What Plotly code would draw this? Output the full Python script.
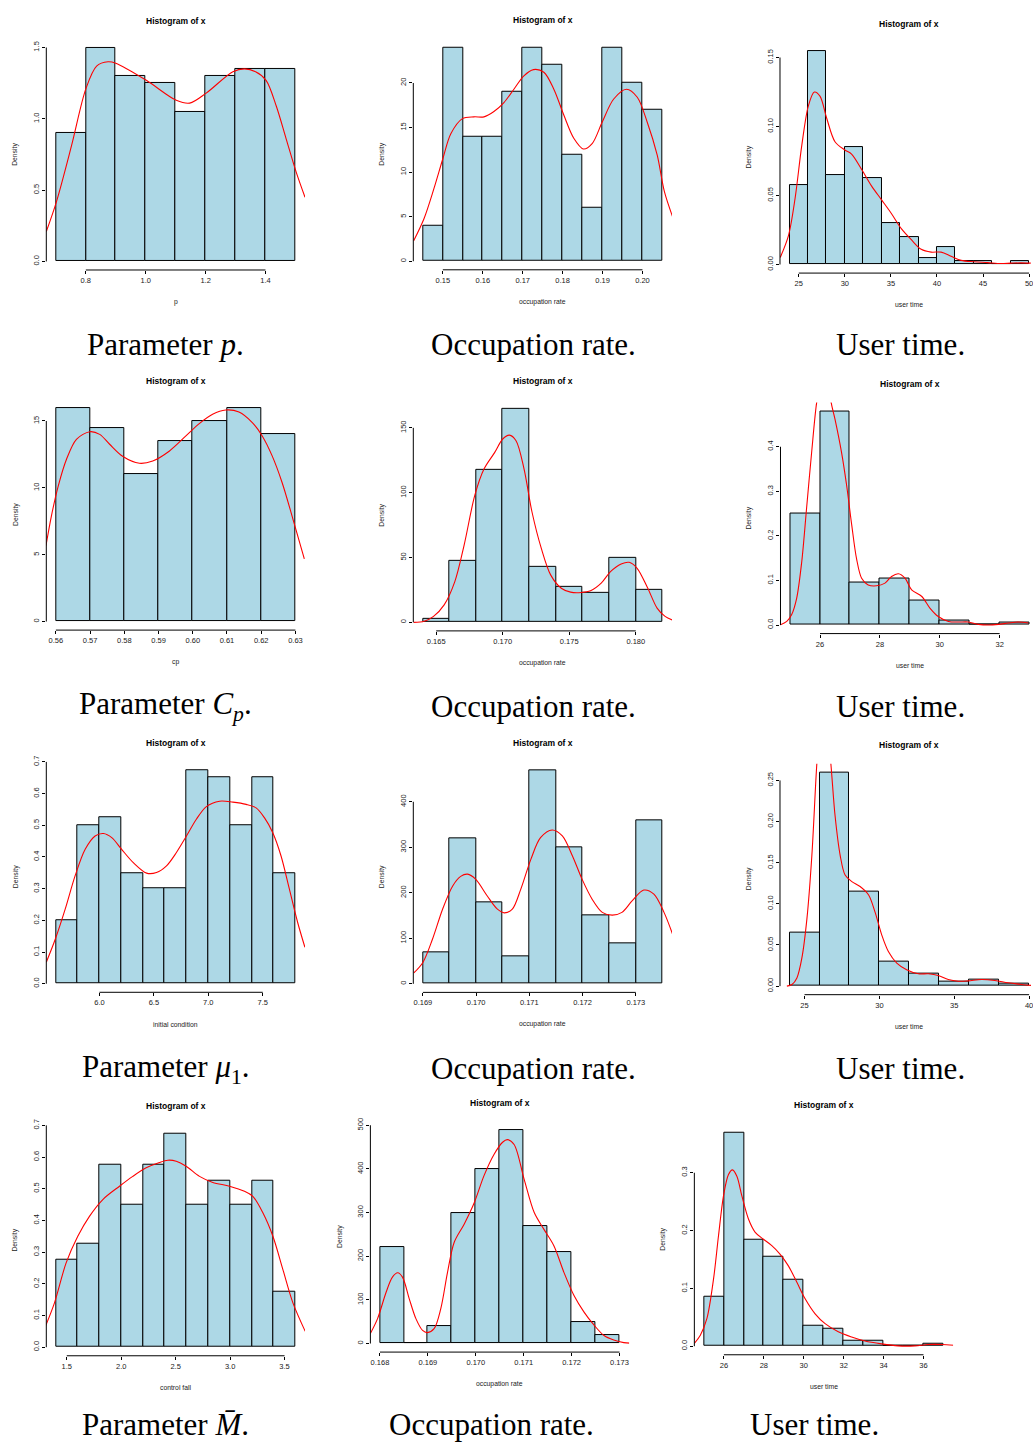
import plotly.graph_objects as go

W, H = 1033, 1444

# ---------------- data ----------------
# Row 1
p1_breaks = [0.7, 0.8, 0.9, 1.0, 1.1, 1.2, 1.3, 1.4, 1.5]
p1_dens = [0.9, 1.5, 1.3, 1.25, 1.05, 1.3, 1.35, 1.35]
p1_kde_x = [0.668, 0.702, 0.752, 0.8, 0.836, 0.874, 0.9, 1.002, 1.102, 1.147, 1.202, 1.291, 1.33, 1.367, 1.402, 1.436, 1.469, 1.502, 1.532]
p1_kde_y = [0.21, 0.42, 0.81, 1.21, 1.37, 1.40, 1.39, 1.27, 1.13, 1.11, 1.18, 1.33, 1.35, 1.33, 1.27, 1.09, 0.86, 0.63, 0.45]
p1_xticks = [0.8, 1.0, 1.2, 1.4]
p1_xlabels = ["0.8", "1.0", "1.2", "1.4"]
p1_yticks = [0, 0.5, 1.0, 1.5]
p1_ylabels = ["0.0", "0.5", "1.0", "1.5"]

p2_breaks = [0.145, 0.150, 0.155, 0.160, 0.165, 0.170, 0.175, 0.180, 0.185, 0.190, 0.195, 0.200, 0.205]
p2_dens = [4, 24, 14, 14, 19, 24, 22, 12, 6, 24, 20, 17]
p2_kde_x = [0.1427, 0.1453, 0.1478, 0.15, 0.152, 0.1549, 0.1578, 0.1603, 0.1628, 0.1653, 0.1678, 0.1703, 0.1727, 0.1753, 0.1778, 0.1803, 0.1828, 0.1852, 0.1874, 0.1899, 0.1928, 0.196, 0.1987, 0.2012, 0.2037, 0.2055, 0.2077]
p2_kde_y = [2.3, 4.8, 8.2, 11.5, 14.3, 16.0, 16.2, 16.2, 16.8, 17.8, 19.3, 20.8, 21.5, 21.2, 19.3, 16.4, 13.8, 12.6, 13.2, 15.6, 18.2, 19.3, 18.4, 15.6, 11.9, 7.8, 4.8]
p2_xticks = [0.15, 0.16, 0.17, 0.18, 0.19, 0.20]
p2_xlabels = ["0.15", "0.16", "0.17", "0.18", "0.19", "0.20"]
p2_yticks = [0, 5, 10, 15, 20]
p2_ylabels = ["0", "5", "10", "15", "20"]

p3_breaks = [24, 26, 28, 30, 32, 34, 36, 38, 40, 42, 44, 46, 48, 50]
p3_dens = [0.0575, 0.155, 0.065, 0.085, 0.0625, 0.03, 0.02, 0.005, 0.0125, 0.0025, 0.0025, 0.0, 0.0025]
p3_kde_x = [22.98, 23.88, 24.6, 25.32, 26.04, 26.69, 27.3, 28.03, 28.93, 30.0, 30.73, 31.81, 32.89, 33.97, 35.05, 36.13, 37.21, 38.29, 39.37, 40.45, 41.53, 42.62, 44.06, 45.5, 46.94, 48.02, 49.1, 50.18]
p3_kde_y = [0.005, 0.021, 0.048, 0.086, 0.115, 0.125, 0.122, 0.106, 0.089, 0.083, 0.080, 0.069, 0.057, 0.047, 0.037, 0.026, 0.018, 0.011, 0.009, 0.009, 0.006, 0.003, 0.002, 0.0014, 0.0007, 0.001, 0.0012, 0.001]
p3_xticks = [25, 30, 35, 40, 45, 50]
p3_xlabels = ["25", "30", "35", "40", "45", "50"]
p3_yticks = [0, 0.05, 0.10, 0.15]
p3_ylabels = ["0.00", "0.05", "0.10", "0.15"]

# Row 2
p4_breaks = [0.56, 0.57, 0.58, 0.59, 0.60, 0.61, 0.62, 0.63]
p4_dens = [16, 14.5, 11, 13.5, 15, 16, 14]
p4_kde_x = [0.5571, 0.5587, 0.5607, 0.5631, 0.566, 0.5699, 0.5728, 0.5757, 0.5796, 0.5844, 0.5883, 0.5932, 0.598, 0.6019, 0.6058, 0.6096, 0.6135, 0.6174, 0.6203, 0.6232, 0.6261, 0.629, 0.6326]
p4_kde_y = [5.67, 7.91, 10.15, 12.14, 13.63, 14.2, 14.0, 13.26, 12.34, 11.84, 12.01, 12.76, 13.88, 14.8, 15.5, 15.82, 15.67, 14.88, 13.88, 12.39, 10.4, 7.91, 4.68]
p4_xticks = [0.56, 0.57, 0.58, 0.59, 0.60, 0.61, 0.62, 0.63]
p4_xlabels = ["0.56", "0.57", "0.58", "0.59", "0.60", "0.61", "0.62", "0.63"]
p4_yticks = [0, 5, 10, 15]
p4_ylabels = ["0", "5", "10", "15"]

p5_breaks = [0.164, 0.166, 0.168, 0.170, 0.172, 0.174, 0.176, 0.178, 0.180, 0.182]
p5_dens = [2.5, 47.5, 117.5, 165, 42.5, 27.5, 22.5, 50, 25]
p5_kde_x = [0.1633, 0.1641, 0.1648, 0.1656, 0.1664, 0.1671, 0.1679, 0.1686, 0.1694, 0.17, 0.1705, 0.171, 0.1716, 0.1722, 0.1729, 0.1736, 0.1744, 0.1751, 0.1759, 0.1766, 0.1774, 0.1781, 0.1789, 0.1795, 0.1801, 0.1809, 0.1816, 0.1822, 0.1828]
p5_kde_y = [0, 0.8, 4.6, 13.5, 31.4, 59.6, 97.9, 118.4, 131.1, 141.4, 144.4, 140.1, 118.4, 85.1, 57.0, 36.6, 26.3, 23.3, 23.0, 24.3, 30.2, 39.1, 45.0, 46.3, 41.7, 26.3, 11.0, 4.6, 1.5]
p5_xticks = [0.165, 0.170, 0.175, 0.180]
p5_xlabels = ["0.165", "0.170", "0.175", "0.180"]
p5_yticks = [0, 50, 100, 150]
p5_ylabels = ["0", "50", "100", "150"]

p6_breaks = [25, 26, 27, 28, 29, 30, 31, 32, 33]
p6_dens = [0.25, 0.48, 0.095, 0.105, 0.055, 0.01, 0.0, 0.005]
p6_kde_x = [24.66, 24.89, 25.05, 25.22, 25.39, 25.55, 25.72, 25.89, 26.06, 26.17, 26.28, 26.37, 26.5, 26.72, 26.89, 27.06, 27.22, 27.39, 27.61, 27.89, 28.17, 28.39, 28.62, 28.84, 29.06, 29.4, 29.67, 29.95, 30.29, 30.62, 30.95, 31.29, 31.62, 31.96, 32.29, 32.62, 32.96]
p6_kde_y = [0, 0.008, 0.023, 0.06, 0.142, 0.261, 0.387, 0.5, 0.56, 0.575, 0.56, 0.5, 0.462, 0.387, 0.313, 0.224, 0.149, 0.105, 0.09, 0.088, 0.094, 0.109, 0.115, 0.105, 0.079, 0.064, 0.038, 0.019, 0.008, 0.0067, 0.0067, 0.0015, 0.0, 0.0015, 0.0045, 0.0067, 0.0045]
p6_xticks = [26, 28, 30, 32]
p6_xlabels = ["26", "28", "30", "32"]
p6_yticks = [0, 0.1, 0.2, 0.3, 0.4]
p6_ylabels = ["0.0", "0.1", "0.2", "0.3", "0.4"]

# Row 3
p7_breaks = [5.6, 5.8, 6.0, 6.2, 6.4, 6.6, 6.8, 7.0, 7.2, 7.4, 7.6, 7.8]
p7_dens = [0.2, 0.5, 0.525, 0.35, 0.3, 0.3, 0.675, 0.65, 0.5, 0.65, 0.35]
p7_kde_x = [5.512, 5.595, 5.686, 5.777, 5.869, 5.96, 6.037, 6.113, 6.204, 6.311, 6.433, 6.524, 6.616, 6.707, 6.799, 6.89, 6.982, 7.104, 7.226, 7.348, 7.439, 7.515, 7.591, 7.668, 7.744, 7.82, 7.887]
p7_kde_y = [0.068, 0.141, 0.236, 0.341, 0.424, 0.466, 0.474, 0.461, 0.424, 0.382, 0.349, 0.351, 0.372, 0.414, 0.466, 0.519, 0.559, 0.576, 0.573, 0.566, 0.555, 0.524, 0.477, 0.403, 0.299, 0.194, 0.115]
p7_xticks = [6.0, 6.5, 7.0, 7.5]
p7_xlabels = ["6.0", "6.5", "7.0", "7.5"]
p7_yticks = [0, 0.1, 0.2, 0.3, 0.4, 0.5, 0.6, 0.7]
p7_ylabels = ["0.0", "0.1", "0.2", "0.3", "0.4", "0.5", "0.6", "0.7"]

p8_breaks = [0.1690, 0.1695, 0.1700, 0.1705, 0.1710, 0.1715, 0.1720, 0.1725, 0.1730, 0.1735]
p8_dens = [70, 320, 180, 60, 470, 300, 150, 90, 360]
p8_kde_x = [0.16883, 0.169, 0.16918, 0.16937, 0.16956, 0.16971, 0.16984, 0.16999, 0.17021, 0.1704, 0.17053, 0.17068, 0.17084, 0.17103, 0.17121, 0.17143, 0.17162, 0.17181, 0.17199, 0.17218, 0.17237, 0.17256, 0.17274, 0.17293, 0.17315, 0.17334, 0.17353, 0.1737]
p8_kde_y = [24, 47, 98, 164, 215, 236, 241, 230, 193, 164, 156, 164, 208, 274, 321, 338, 325, 281, 230, 186, 157, 151, 157, 182, 206, 197, 157, 106]
p8_xticks = [0.169, 0.170, 0.171, 0.172, 0.173]
p8_xlabels = ["0.169", "0.170", "0.171", "0.172", "0.173"]
p8_yticks = [0, 100, 200, 300, 400]
p8_ylabels = ["0", "100", "200", "300", "400"]

p9_breaks = [24, 26, 28, 30, 32, 34, 36, 38, 40]
p9_dens = [0.065, 0.26, 0.115, 0.03, 0.015, 0.005, 0.0075, 0.0025]
p9_kde_x = [23.82, 24.16, 24.49, 24.82, 25.16, 25.49, 25.82, 26.04, 26.27, 26.49, 26.76, 27.04, 27.38, 27.71, 28.16, 28.71, 29.27, 29.71, 30.16, 30.6, 31.16, 31.82, 32.6, 33.27, 33.93, 34.6, 35.27, 35.93, 36.82, 37.71, 38.6, 39.49, 40.16]
p9_kde_y = [0, 0.002, 0.01, 0.034, 0.082, 0.159, 0.27, 0.32, 0.335, 0.32, 0.27, 0.207, 0.159, 0.135, 0.127, 0.121, 0.111, 0.09, 0.062, 0.042, 0.028, 0.02, 0.015, 0.015, 0.013, 0.008, 0.006, 0.0064, 0.008, 0.0068, 0.004, 0.002, 0.0008]
p9_xticks = [25, 30, 35, 40]
p9_xlabels = ["25", "30", "35", "40"]
p9_yticks = [0, 0.05, 0.10, 0.15, 0.20, 0.25]
p9_ylabels = ["0.00", "0.05", "0.10", "0.15", "0.20", "0.25"]

# Row 4
p10_breaks = [1.4, 1.6, 1.8, 2.0, 2.2, 2.4, 2.6, 2.8, 3.0, 3.2, 3.4, 3.6]
p10_dens = [0.275, 0.325, 0.575, 0.45, 0.575, 0.675, 0.45, 0.525, 0.45, 0.525, 0.175]
p10_kde_x = [1.304, 1.387, 1.494, 1.601, 1.708, 1.831, 1.984, 2.106, 2.229, 2.351, 2.428, 2.505, 2.596, 2.719, 2.841, 2.995, 3.132, 3.209, 3.301, 3.393, 3.485, 3.577, 3.69]
p10_kde_y = [0.066, 0.14, 0.266, 0.35, 0.413, 0.466, 0.508, 0.539, 0.566, 0.583, 0.59, 0.587, 0.571, 0.539, 0.52, 0.508, 0.492, 0.476, 0.424, 0.35, 0.245, 0.14, 0.05]
p10_xticks = [1.5, 2.0, 2.5, 3.0, 3.5]
p10_xlabels = ["1.5", "2.0", "2.5", "3.0", "3.5"]
p10_yticks = [0, 0.1, 0.2, 0.3, 0.4, 0.5, 0.6, 0.7]
p10_ylabels = ["0.0", "0.1", "0.2", "0.3", "0.4", "0.5", "0.6", "0.7"]

p11_breaks = [0.1680, 0.1685, 0.1690, 0.1695, 0.1700, 0.1705, 0.1710, 0.1715, 0.1720, 0.1725, 0.1730]
p11_dens = [220, 0, 40, 300, 400, 490, 270, 210, 50, 20]
p11_kde_x = [0.1678, 0.16795, 0.16813, 0.16826, 0.16837, 0.16847, 0.16861, 0.16875, 0.16889, 0.16899, 0.16913, 0.16927, 0.16941, 0.16955, 0.16976, 0.16997, 0.17017, 0.17038, 0.17056, 0.17066, 0.1708, 0.17101, 0.17122, 0.17142, 0.17163, 0.17184, 0.17205, 0.17226, 0.17247, 0.17267, 0.17288, 0.17309, 0.17322]
p11_kde_y = [23, 57, 118, 152, 162, 152, 103, 57, 30, 25, 34, 80, 163, 232, 274, 323, 384, 433, 461, 467, 456, 376, 300, 262, 224, 163, 110, 72, 42, 19, 8, 2, 1]
p11_xticks = [0.168, 0.169, 0.170, 0.171, 0.172, 0.173]
p11_xlabels = ["0.168", "0.169", "0.170", "0.171", "0.172", "0.173"]
p11_yticks = [0, 100, 200, 300, 400, 500]
p11_ylabels = ["0", "100", "200", "300", "400", "500"]

p12_breaks = [25, 26, 27, 28, 29, 30, 31, 32, 33, 34, 35, 36, 37]
p12_dens = [0.085, 0.37, 0.185, 0.155, 0.115, 0.035, 0.03, 0.01, 0.01, 0.0, 0.0, 0.005]
p12_kde_x = [24.52, 24.82, 25.15, 25.48, 25.73, 25.98, 26.23, 26.43, 26.65, 26.9, 27.23, 27.57, 27.98, 28.4, 28.82, 29.23, 29.65, 30.07, 30.57, 31.07, 31.73, 32.4, 33.07, 33.9, 34.73, 35.57, 36.23, 36.9, 37.52]
p12_kde_y = [0.005, 0.019, 0.048, 0.116, 0.191, 0.26, 0.297, 0.305, 0.294, 0.26, 0.22, 0.197, 0.185, 0.174, 0.159, 0.139, 0.111, 0.082, 0.056, 0.039, 0.025, 0.016, 0.009, 0.004, 0.0006, 0.0006, 0.0029, 0.0029, 0.0017]
p12_xticks = [26, 28, 30, 32, 34, 36]
p12_xlabels = ["26", "28", "30", "32", "34", "36"]
p12_yticks = [0, 0.1, 0.2, 0.3]
p12_ylabels = ["0.0", "0.1", "0.2", "0.3"]

x_titles = ["p", "occupation rate", "user time",
            "cp", "occupation rate", "user time",
            "initial condition", "occupation rate", "user time",
            "control fall", "occupation rate", "user time"]

captions = ["Parameter <i>p</i>.", "Occupation rate.", "User time.",
            "Parameter <i>C</i><sub><i>p</i></sub>.", "Occupation rate.", "User time.",
            "Parameter <i>μ</i><sub>1</sub>.", "Occupation rate.", "User time.",
            "Parameter <i>M\u0304</i>.", "Occupation rate.", "User time."]

# ---------------- layout (pixel positions of plot regions) ----------------
RW, RH = 259.2, 232.0
region_pos = [(46.4, 33.1), (414.1, 32.9), (781.5, 36.2),
              (46.4, 394.7), (414.1, 395.5), (782.0, 398.2),
              (46.4, 758.4), (414.1, 758.5), (781.5, 760.8),
              (46.4, 1123.4), (371.1, 1119.7), (695.7, 1122.4)]
caption_pos = [(166, 340), (535, 340), (902, 340),
               (166, 703), (535, 703), (902, 703),
               (166, 1067), (535, 1067), (902, 1067),
               (166, 1424), (492, 1424), (816, 1424)]

panels = []
for k in range(1, 13):
    g = globals()
    panels.append(dict(breaks=g[f"p{k}_breaks"], dens=g[f"p{k}_dens"],
                       kx=g[f"p{k}_kde_x"], ky=g[f"p{k}_kde_y"],
                       xt=g[f"p{k}_xticks"], xl=g[f"p{k}_xlabels"],
                       yt=g[f"p{k}_yticks"], yl=g[f"p{k}_ylabels"]))

SANS = "Liberation Sans, Arial, sans-serif"
SERIF = "Liberation Serif, Times New Roman, serif"
TXT = "#1a1a1a"


def px(x):
    return x / W


def py(y):
    return 1 - y / H


fig = go.Figure()
layout = {}
shapes = []
annotations = []

for i, p in enumerate(panels, start=1):
    s = "" if i == 1 else str(i)
    xr, yr = "x" + s, "y" + s
    b, h = p["breaks"], p["dens"]
    centers = [(b[k] + b[k + 1]) / 2 for k in range(len(h))]
    widths = [b[k + 1] - b[k] for k in range(len(h))]
    fig.add_trace(go.Bar(x=centers, y=h, width=widths, xaxis=xr, yaxis=yr,
                         marker=dict(color="#ADD8E6", line=dict(color="black", width=1)),
                         showlegend=False, hoverinfo="skip"))
    fig.add_trace(go.Scatter(x=p["kx"], y=p["ky"], mode="lines", xaxis=xr, yaxis=yr,
                             line=dict(color="red", width=1.1, shape="spline", smoothing=0.9),
                             showlegend=False, hoverinfo="skip"))

    span = b[-1] - b[0]
    x0, x1 = b[0] - 0.04 * span, b[-1] + 0.04 * span
    ymax = max(h)
    y0, y1 = -0.04 * ymax, 1.04 * ymax
    left, top = region_pos[i - 1]
    right, bottom = left + RW, top + RH
    if right > W:
        x1 = x0 + (x1 - x0) * (W - left) / RW
        right = W

    layout["xaxis" + s] = dict(domain=[px(left), px(right)], range=[x0, x1], anchor=yr,
                               tickmode="array", tickvals=p["xt"], ticktext=p["xl"],
                               ticks="outside", ticklen=3, tickwidth=1, tickcolor="black",
                               showline=False, showgrid=False, zeroline=False,
                               tickfont=dict(family=SANS, size=7.5, color=TXT),
                               ticklabeloverflow="allow", fixedrange=True)
    layout["yaxis" + s] = dict(domain=[py(bottom), py(top)], range=[y0, y1], anchor=xr,
                               tickmode="array", tickvals=p["yt"], ticktext=p["yl"],
                               ticks="outside", ticklen=3, tickwidth=1, tickcolor="black",
                               tickangle=-90,
                               showline=False, showgrid=False, zeroline=False,
                               tickfont=dict(family=SANS, size=7.5, color=TXT),
                               ticklabeloverflow="allow", fixedrange=True)

    # R-style axis lines spanning first..last tick
    shapes.append(dict(type="line", xref=xr, yref=yr + " domain",
                       x0=p["xt"][0], x1=p["xt"][-1], y0=0, y1=0,
                       line=dict(color="black", width=1)))
    shapes.append(dict(type="line", xref=xr + " domain", yref=yr,
                       x0=0, x1=0, y0=p["yt"][0], y1=p["yt"][-1],
                       line=dict(color="black", width=1)))

    cx = (left + left + RW) / 2
    annotations.append(dict(text="<b>Histogram of x</b>", x=px(cx), y=py(top - 18.5),
                            xref="paper", yref="paper", showarrow=False,
                            xanchor="center", yanchor="middle",
                            font=dict(family=SANS, size=8.5, color="black")))
    annotations.append(dict(text=x_titles[i - 1], x=px(cx), y=py(bottom + 32),
                            xref="paper", yref="paper", showarrow=False,
                            xanchor="center", yanchor="middle",
                            font=dict(family=SANS, size=6.8, color=TXT)))
    annotations.append(dict(text="Density", x=px(left - 31), y=py(top + RH / 2),
                            xref="paper", yref="paper", showarrow=False, textangle=-90,
                            xanchor="center", yanchor="middle",
                            font=dict(family=SANS, size=6.8, color=TXT)))
    ccx, ccy = caption_pos[i - 1]
    annotations.append(dict(text=captions[i - 1], x=px(ccx), y=py(ccy),
                            xref="paper", yref="paper", showarrow=False,
                            xanchor="center", yanchor="middle", borderpad=0,
                            font=dict(family=SERIF, size=31, color="black")))

fig.update_layout(**layout)
fig.update_layout(width=W, height=H, margin=dict(l=0, r=0, t=0, b=0),
                  paper_bgcolor="white", plot_bgcolor="white",
                  shapes=shapes, annotations=annotations, bargap=0)

fig.write_html("out.html", config={"displayModeBar": False},
               post_script="document.body.style.margin='0';document.body.style.overflow='hidden';")
